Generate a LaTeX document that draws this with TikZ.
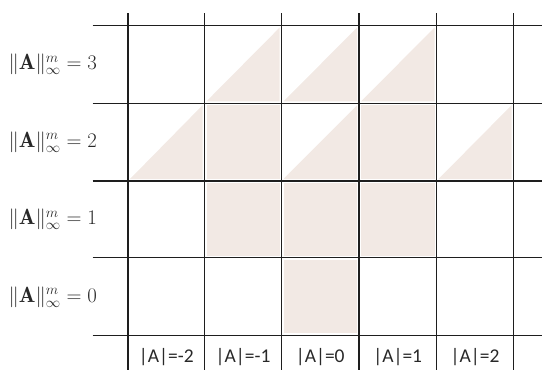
\documentclass[tikz,border=0pt]{standalone}
\usepackage{amsmath}
\usepackage{fontspec}
\newfontfamily\calib{Carlito}
\definecolor{shade}{RGB}{242,233,228}
\definecolor{gridc}{RGB}{30,30,30}
\definecolor{textc}{RGB}{40,40,40}
\begin{document}
\begin{tikzpicture}[x=1pt,y=-1pt,
  gridline/.style={draw=gridc,line width=1.2pt},
  normlabel/.style={anchor=east,inner sep=0pt,text=textc,font=\fontsize{22}{24}\selectfont},
  collabel/.style={anchor=center,inner sep=0pt,text=textc,font=\calib\fontsize{19.5}{21}\selectfont},
  cellfill/.style={fill=shade,draw=none}]
\useasboundingbox (0,0) rectangle (550,380);
\def\XA{128}\def\XB{204.5}\def\XC{281.5}\def\XD{359}\def\XE{436.5}\def\XF{513.5}
\def\YA{25.7}\def\YB{103.3}\def\YC{181}\def\YD{257.7}\def\YE{335.3}
\def\gap{2}
% full cells
\foreach \pl/\pr/\pt/\pb in {\XC/\XD/\YD/\YE,
   \XB/\XC/\YC/\YD, \XC/\XD/\YC/\YD, \XD/\XE/\YC/\YD,
   \XB/\XC/\YB/\YC, \XD/\XE/\YB/\YC}
  \fill[cellfill] (\pl+\gap,\pt+\gap) rectangle (\pr-\gap,\pb-\gap);
% triangular cells (lower-right half)
\foreach \pl/\pr/\pt/\pb in {\XA/\XB/\YB/\YC, \XC/\XD/\YB/\YC, \XE/\XF/\YB/\YC,
   \XB/\XC/\YA/\YB, \XC/\XD/\YA/\YB, \XD/\XE/\YA/\YB}
  \fill[cellfill] (\pl+\gap,\pb-\gap) -- (\pr-\gap,\pb-\gap) -- (\pr-\gap,\pt+\gap) -- cycle;
% grid
\foreach \px in {\XA,\XB,\XC,\XD,\XE,\XF}
  \draw[gridline] (\px,13) -- (\px,370);
\foreach \py in {\YA,\YB,\YC,\YD,\YE}
  \draw[gridline] (92.5,\py) -- (542,\py);
% row labels
\node[normlabel] (n3) at (97,64.5) {$\|\mathbf{A}\|_\infty^m = 3$};
\node[normlabel] (n2) at (97,142) {$\|\mathbf{A}\|_\infty^m = 2$};
\node[normlabel] (n1) at (97,219.5) {$\|\mathbf{A}\|_\infty^m = 1$};
\node[normlabel] (n0) at (97,297) {$\|\mathbf{A}\|_\infty^m = 0$};
% column labels
\node[collabel] (cm2) at (166.3,357.5) {|A|=-2};
\node[collabel] (cm1) at (243,357.5) {|A|=-1};
\node[collabel] (c0) at (320.2,357.5) {|A|=0};
\node[collabel] (c1) at (397.7,357.5) {|A|=1};
\node[collabel] (c2) at (475,357.5) {|A|=2};
\end{tikzpicture}
\end{document}
